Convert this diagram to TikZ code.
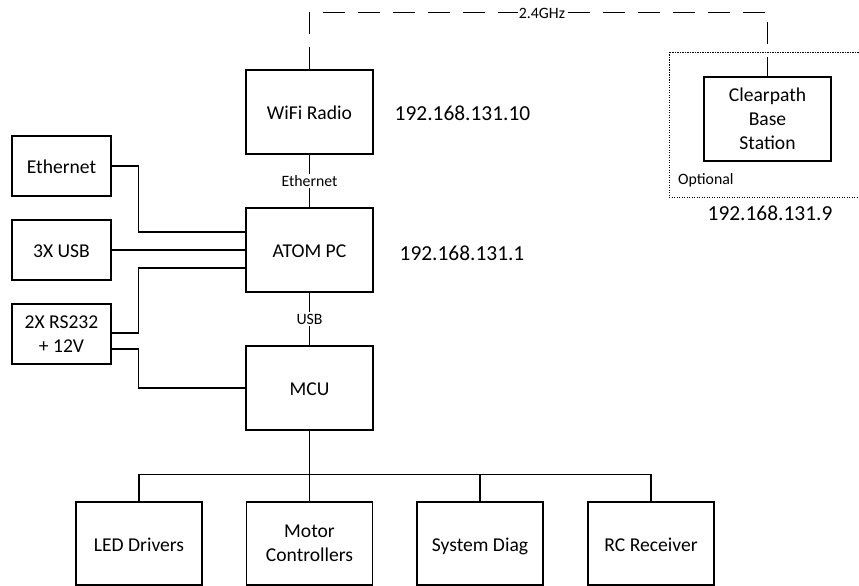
\documentclass[tikz,border=0pt]{standalone}
\usepackage{fontspec}
\setmainfont{Carlito}
\begin{document}
\begin{tikzpicture}[x=1pt,y=-1pt,
  box/.style={draw, line width=1.1pt, minimum width=127pt, minimum height=84pt,
    align=center, inner sep=2pt, font=\fontsize{19.6}{24}\selectfont},
  oneline/.style={text height=15pt, text depth=0pt},
  sidebox/.style={box, minimum width=99pt, minimum height=60pt},
  leaf/.style={box, minimum width=126pt, minimum height=83pt},
  link/.style={line width=1.1pt},
  radio/.style={line width=1.1pt, dash pattern=on 22pt off 13pt},
  tag/.style={fill=white, inner sep=1.5pt, font=\fontsize{15.8}{18}\selectfont},
  addr/.style={inner sep=0pt, font=\fontsize{21.4}{26}\selectfont}]

\useasboundingbox[fill=white] (0,0) rectangle (859,586);

% main chain
\node[box, oneline] (wifi) at (309.5,112) {WiFi Radio};
\node[box, oneline] (atom) at (309.5,250) {ATOM PC};
\node[box, oneline] (mcu)  at (309.5,388) {MCU};

% peripherals on the left
\node[sidebox, oneline] (eth) at (61.5,166) {Ethernet};
\node[sidebox, oneline] (usb) at (61.5,250) {3X USB};
\node[sidebox] (rs232) at (61.5,334) {2X RS232\\+ 12V};

% devices below the MCU
\node[leaf, oneline] (led)  at (139,543.5) {LED Drivers};
\node[leaf] (motor) at (309.5,543.5) {Motor\\Controllers};
\node[leaf, oneline] (diag) at (480,543.5) {System Diag};
\node[leaf, oneline] (rc)   at (651,543.5) {RC Receiver};

% base station inside the optional area
\node[box] (base) at (767.5,119) {Clearpath\\Base\\Station};
\begin{scope}
  \clip (0,0) rectangle (859,586);
  \draw[line width=0.9pt, dash pattern=on 1.2pt off 1.3pt] (669,52) rectangle (880,197);
\end{scope}
\node[anchor=west, inner sep=0pt, font=\fontsize{15.8}{18}\selectfont] (opt) at (678,180) {Optional};

% addresses
\node[addr] (ipwifi) at (462.5,113) {192.168.131.10};
\node[addr] (ipatom) at (462,253)   {192.168.131.1};
\node[addr] (ipbase) at (770,213)   {192.168.131.9};

% wired links
\draw[link] (wifi.south) -- node[tag] (ethtag) {Ethernet} (atom.north);
\draw[link] (atom.south) -- node[tag] (usbtag) {USB} (mcu.north);
\draw[link] (eth.east) -- ++(27,0) |- ([yshift=18pt]atom.west);
\draw[link] (usb.east) -- (atom.west);
\draw[link] ([yshift=1pt]rs232.east) -- ++(27,0) |- ([yshift=-18pt]atom.west);
\draw[link] ([yshift=-15pt]rs232.east) -- ++(27,0) |- (mcu.west);
\draw[link] (mcu.south) -- (motor.north);
\draw[link] (led.north) -- ++(0,-27) -| (rc.north);
\draw[link] (diag.north) -- ++(0,-27);

% radio link
\draw[radio] (wifi.north) -- ++(0,-57) coordinate (air) -| (base.north);
\node[fill=white, inner sep=1pt, font=\fontsize{15.8}{18}\selectfont] (ghz) at (542,13) {2.4GHz};
\end{tikzpicture}
\end{document}
